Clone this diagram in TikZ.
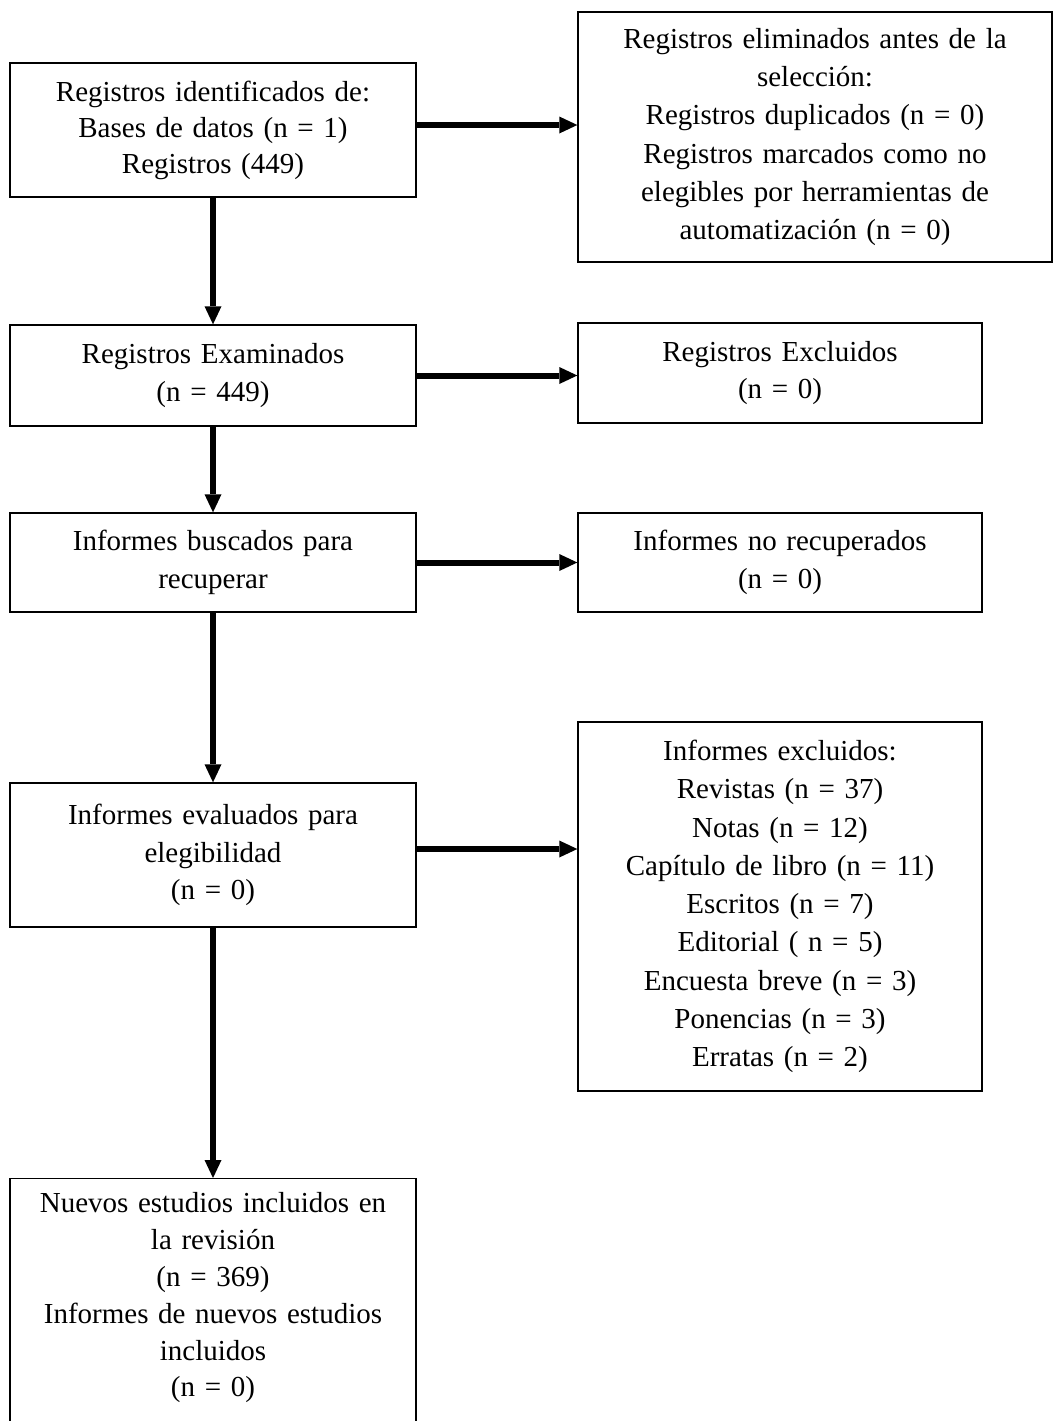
\documentclass[tikz,border=0pt]{standalone}
\usepackage{fontspec}
\setmainfont[WordSpace=0.85]{Liberation Serif}
\usetikzlibrary{arrows.meta}
\tikzset{
  box/.style={draw, line width=1.4pt, align=center, inner xsep=4pt,
    font=\fontsize{29}{37.5}\selectfont},
  tallbox/.style={box, font=\fontsize{29}{38.3}\selectfont},
  arr/.style={line width=6pt, -{Triangle[length=18pt,width=17pt,line width=0pt]}},
}
\begin{document}
\begin{tikzpicture}[x=1pt,y=-1pt]
\useasboundingbox (0,0) rectangle (1053,1421);
% left column
\node[box, text width=398pt, minimum height=134pt, font=\fontsize{29}{36}\selectfont] (ident) at (213,130)
  {Registros identificados de:\\Bases de datos (n = 1)\\Registros (449)};
\node[box, text width=398pt, minimum height=101pt] (exam) at (213,375.5)
  {Registros Examinados\\(n = 449)};
\node[box, text width=398pt, minimum height=99pt] (busc) at (213,562.5)
  {Informes buscados para\\recuperar};
\node[box, text width=398pt, minimum height=144pt] (eval) at (213,855)
  {Informes evaluados para\\elegibilidad\\(n = 0)};
\node[box, text width=398pt, anchor=north, inner ysep=14pt, text depth=260pt, font=\fontsize{29}{36.8}\selectfont] (incl) at (213,1178)
  {Nuevos estudios incluidos en\\la revisión\\(n = 369)\\Informes de nuevos estudios\\incluidos\\(n = 0)};
% right column
\node[tallbox, text width=466pt, minimum height=250pt] (elim) at (815,137)
  {Registros eliminados antes de la\\selección:\\Registros duplicados (n = 0)\\Registros marcados como no\\elegibles por herramientas de\\automatización (n = 0)};
\node[box, text width=396pt, minimum height=100pt] (excl) at (780,373)
  {Registros Excluidos\\(n = 0)};
\node[box, text width=396pt, minimum height=99pt] (norec) at (780,562.5)
  {Informes no recuperados\\(n = 0)};
\node[tallbox, text width=396pt, minimum height=369pt] (infexcl) at (780,906.5)
  {Informes excluidos:\\Revistas (n = 37)\\Notas (n = 12)\\Capítulo de libro (n = 11)\\Escritos (n = 7)\\Editorial ( n = 5)\\Encuesta breve (n = 3)\\Ponencias (n = 3)\\Erratas (n = 2)};
% arrows
\draw[arr] (ident) -- (exam);
\draw[arr] (exam) -- (busc);
\draw[arr] (busc) -- (eval);
\draw[arr] (eval) -- (incl.north);
\draw[arr] ([yshift=5pt]ident.east) -- ([yshift=5pt]ident.east -| elim.west);
\draw[arr] (exam.east) -- (exam.east -| excl.west);
\draw[arr] (busc.east) -- (busc.east -| norec.west);
\draw[arr] ([yshift=6pt]eval.east) -- ([yshift=6pt]eval.east -| infexcl.west);
\end{tikzpicture}
\end{document}
